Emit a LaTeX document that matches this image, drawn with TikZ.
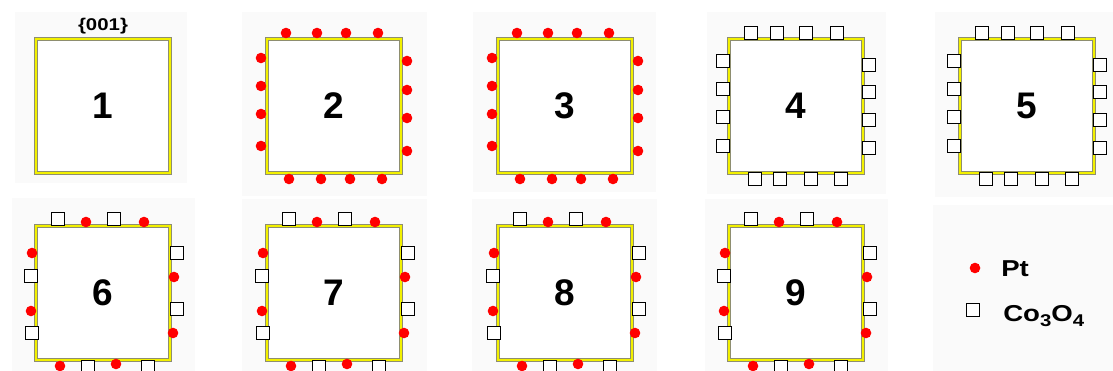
\documentclass[tikz,border=0pt]{standalone}
\usepackage{fontspec}
\setmainfont{Liberation Sans}
\usepackage{tikz}
\usetikzlibrary{positioning, calc}

\definecolor{facetyellow}{HTML}{F2F000}
\definecolor{facetedge}{HTML}{8E8E70}
\definecolor{panelbg}{HTML}{FAFAFA}
\definecolor{ptred}{HTML}{FF0000}

\newcommand{\chemsub}[1]{\raisebox{-0.35ex}{\fontsize{17}{17}\selectfont #1}}

\tikzset{
    facet/.style={rectangle, minimum size=134pt, inner sep=0pt, outer sep=0pt,
        draw=facetedge, double=facetyellow, double distance=2.6pt, line width=0.9pt,
        fill=white, font=\bfseries\fontsize{37}{37}\selectfont},
    ptdot/.style={fill=ptred},
    cobox/.style={draw=black, fill=white, line width=1.3pt},
    legendtext/.style={anchor=west, xscale=1.2, font=\bfseries\fontsize{23}{23}\selectfont},
}

\begin{document}
\begin{tikzpicture}[x=1pt, y=-1pt]
    \useasboundingbox (0,0) rectangle (1113,371);

    % faint panel backgrounds
    \foreach \xa/\ya/\xb/\yb in {15/12/187/183, 242/12/427/196, 473/12/656/192,
            707/12/886/194, 935/12/1113/197, 12/198/195/371, 242/199/427/371,
            472/199/657/371, 705/199/888/371, 933/205/1113/371}
        \fill[panelbg] (\xa,\ya) rectangle (\xb,\yb);

    % crystals, {001} view
    \node[facet] (p1) at (103,106) {1};
    \node[facet, right=97pt of p1] (p2) {2};
    \node[facet, right=97pt of p2] (p3) {3};
    \node[facet, right=97pt of p3] (p4) {4};
    \node[facet, right=97pt of p4] (p5) {5};
    \node[facet, below=53pt of p1] (p6) {6};
    \node[facet, right=97pt of p6] (p7) {7};
    \node[facet, right=97pt of p7] (p8) {8};
    \node[facet, right=97pt of p8] (p9) {9};

    \node[above=1pt of p1, xscale=1.2, font=\bfseries\fontsize{17}{17}\selectfont] (miller) {\{001\}};

    % Pt only
    \foreach \n in {2,3} {
        \foreach \d in {-48,-17,12,44} \fill[ptdot] ($(p\n)+(\d,-73)$) circle (5.3);  % top
        \foreach \d in {-45,-13,16,48} \fill[ptdot] ($(p\n)+(\d,73)$) circle (5.3);   % bottom
        \foreach \d in {-48,-20,8,40} \fill[ptdot] ($(p\n)+(-73,\d)$) circle (5.3);   % left
        \foreach \d in {-45,-16,12,45} \fill[ptdot] ($(p\n)+(73,\d)$) circle (5.3);   % right
    }

    % Co3O4 only
    \foreach \n in {4,5} {
        \foreach \d in {-45,-19,10,41} \draw[cobox] ($(p\n)+(\d,-73)$) ++(-6.5,-6.5) rectangle ++(13,13);
        \foreach \d in {-41,-16,15,45} \draw[cobox] ($(p\n)+(\d,73)$) ++(-6.5,-6.5) rectangle ++(13,13);
        \foreach \d in {-45,-17,11,40} \draw[cobox] ($(p\n)+(-73,\d)$) ++(-6.5,-6.5) rectangle ++(13,13);
        \foreach \d in {-41,-14,14,42} \draw[cobox] ($(p\n)+(73,\d)$) ++(-6.5,-6.5) rectangle ++(13,13);
    }

    % Pt and Co3O4 alternating
    \foreach \n in {6,7,8,9} {
        \foreach \dx/\dy in {-17/-71, 41/-71, -71/-40, -72/18, 71/-16, 70/40, -43/73, 13/71}
            \fill[ptdot] ($(p\n)+(\dx,\dy)$) circle (5.3);
        \foreach \dx/\dy in {-45/-74, 11/-74, -72/-17, -71/40, 74/-40, 74/16, -15/74, 45/74}
            \draw[cobox] ($(p\n)+(\dx,\dy)$) ++(-6.5,-6.5) rectangle ++(13,13);
    }

    % legend
    \fill[ptdot] (975,268) circle (5.3);
    \node[legendtext] (ptlabel) at (997,269) {Pt};
    \draw[cobox] (966.5,303.5) rectangle ++(13,13);
    \node[legendtext] (colabel) at (999,316) {Co\chemsub{3}O\chemsub{4}};
\end{tikzpicture}
\end{document}
